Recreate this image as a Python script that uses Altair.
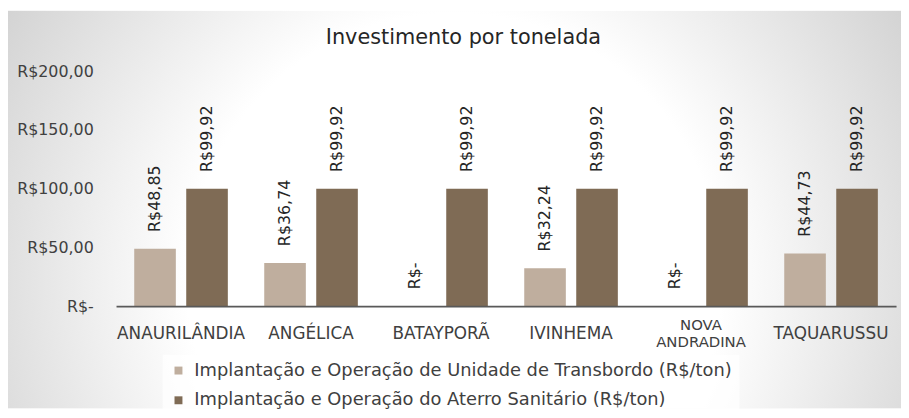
import altair as alt
import pandas as pd

municipios = ["ANAURILÂNDIA", "ANGÉLICA", "BATAYPORÃ", "IVINHEMA", "NOVA ANDRADINA", "TAQUARUSSU"]
series = [
    "Implantação e Operação de Unidade de Transbordo (R$/ton)",
    "Implantação e Operação do Aterro Sanitário (R$/ton)",
]
transbordo = [48.85, 36.74, 0.0, 32.24, 0.0, 44.73]
aterro = [99.92, 99.92, 99.92, 99.92, 99.92, 99.92]
y_ticks = [0, 50, 100, 150, 200]
colors = ["#BFAE9E", "#7F6B55"]


def brl(v):
    return "R$-" if v == 0 else "R$" + f"{v:.2f}".replace(".", ",")


rows = []
for m, t, a in zip(municipios, transbordo, aterro):
    rows.append({"Municipio": m, "Serie": series[0], "Valor": t, "Rotulo": brl(t)})
    rows.append({"Municipio": m, "Serie": series[1], "Valor": a, "Rotulo": brl(a)})
df = pd.DataFrame(rows)

W, H = 787, 237
PL, PT, PR, PB = 109, 62, 5, 103

font = "DejaVu Sans"
txt = "#404040"

bg_gradient = {
    "gradient": "radial",
    "x1": 0.5, "y1": 0.58, "r1": 0,
    "x2": 0.5, "y2": 0.58, "r2": 0.75,
    "stops": [
        {"offset": 0, "color": "#ffffff"},
        {"offset": 0.4, "color": "#ffffff"},
        {"offset": 1, "color": "#bababa"},
    ],
}

background = alt.Chart(alt.Data(values=[{"k": 1}])).mark_rect(
    color=bg_gradient, clip=False
).encode(
    x=alt.value(-PL),
    x2=alt.value(W + PR),
    y=alt.value(-PT + 1),
    y2=alt.value(H + PB),
)

nova_test = "datum.value == 'NOVA ANDRADINA'"

x_enc = alt.X(
    "Municipio:N",
    sort=municipios,
    scale=alt.Scale(paddingInner=0.28, paddingOuter=0.14),
    axis=alt.Axis(
        title=None,
        labelAngle=0,
        labelFont=font,
        labelFontSize={"condition": {"test": nova_test, "value": 15}, "value": 17},
        labelColor=txt,
        labelBaseline={"condition": {"test": nova_test, "value": "line-bottom"}, "value": "middle"},
        labelPadding=28,
        labelExpr="datum.value == 'NOVA ANDRADINA' ? ['NOVA', 'ANDRADINA'] : datum.label",
        labelLineHeight=17,
        labelLimit=200,
        ticks=False,
        tickSize=0,
        domainColor="#595959",
        domainWidth=2,
        grid=False,
        zindex=2,
    ),
)
xoff_enc = alt.XOffset("Serie:N", sort=series, scale=alt.Scale(paddingInner=0.2, paddingOuter=0))
y_enc = alt.Y(
    "Valor:Q",
    scale=alt.Scale(domain=[0, 200], nice=False),
    axis=alt.Axis(
        title=None,
        values=y_ticks,
        labelExpr="datum.value == 0 ? 'R$-' : 'R$' + replace(format(datum.value, '.2f'), '.', ',')",
        labelFont=font,
        labelFontSize=16,
        labelColor=txt,
        labelPadding=23,
        ticks=False,
        tickSize=0,
        domain=False,
        grid=False,
        zindex=2,
    ),
)

bars = alt.Chart(df).mark_bar().encode(
    x=x_enc,
    xOffset=xoff_enc,
    y=y_enc,
    color=alt.Color(
        "Serie:N",
        sort=series,
        scale=alt.Scale(domain=series, range=colors),
        legend=alt.Legend(
            title=None,
            orient="none",
            direction="vertical",
            legendX=47,
            legendY=286,
            symbolType="square",
            symbolSize=64,
            symbolStrokeWidth=0,
            labelFont=font,
            labelFontSize=18,
            labelColor=txt,
            labelLimit=700,
            labelOffset=7,
            rowPadding=12,
            padding=7,
            fillColor="rgba(255,255,255,0.7)",
            zindex=2,
        ),
    ),
)

labels = alt.Chart(df).mark_text(
    angle=270, align="left", baseline="middle", dx=17, font=font, fontSize=16, color="#262626"
).encode(
    x=alt.X("Municipio:N", sort=municipios),
    xOffset=alt.XOffset("Serie:N", sort=series),
    y=alt.Y("Valor:Q"),
    text="Rotulo:N",
)

chart = alt.layer(background, bars, labels).properties(
    width=W,
    height=H,
    title=alt.TitleParams(
        "Investimento por tonelada",
        font=font,
        fontSize=21,
        fontWeight="normal",
        color="#262626",
        anchor="middle",
        dx=-43,
        offset=-38,
        zindex=2,
    ),
    autosize=alt.AutoSizeParams(type="none"),
    padding={"left": PL, "top": PT, "right": PR, "bottom": PB},
).configure_view(strokeWidth=0).configure(background="white")

chart.save("out.html", embed_options={"renderer": "svg", "actions": False})
